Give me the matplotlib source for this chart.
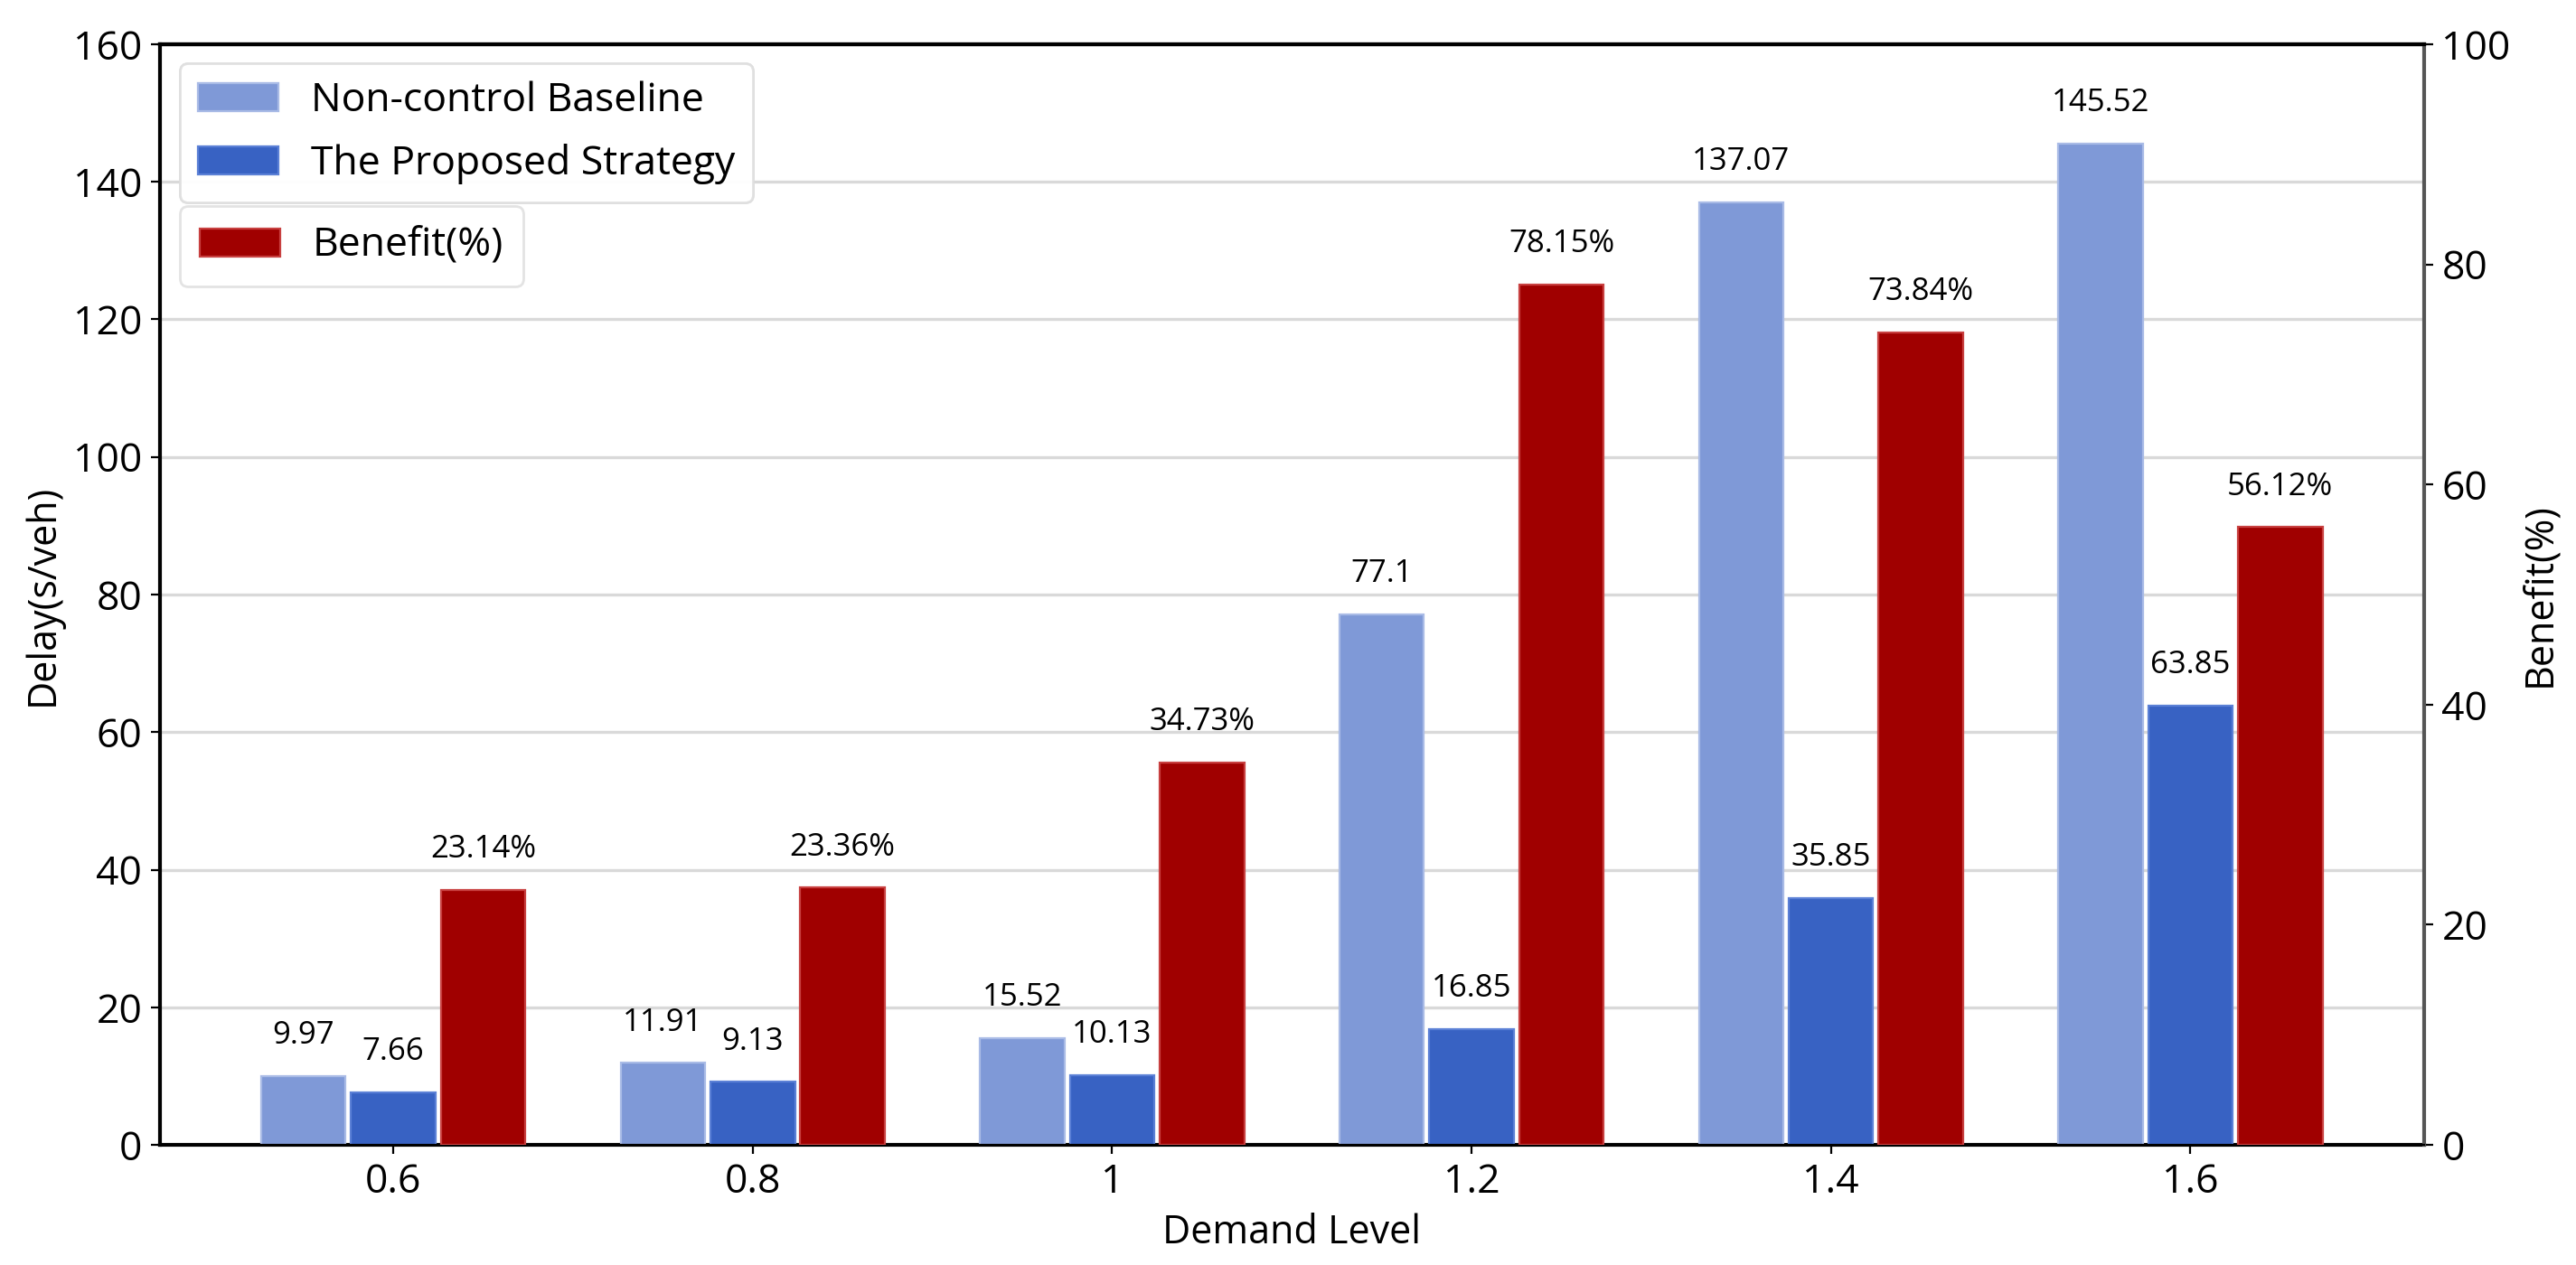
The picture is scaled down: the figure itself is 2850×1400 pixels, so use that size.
import matplotlib
matplotlib.use("Agg")
import matplotlib.pyplot as plt
import numpy as np

plt.rcParams['font.family'] = ['Open Sans', 'DejaVu Sans']

demand_levels = ["0.6", "0.8", "1", "1.2", "1.4", "1.6"]
baseline_delay = [9.97, 11.91, 15.52, 77.1, 137.07, 145.52]
proposed_delay = [7.66, 9.13, 10.13, 16.85, 35.85, 63.85]
benefit_pct = [23.14, 23.36, 34.73, 78.15, 73.84, 56.12]

c_base = "#7f99d7"
c_prop = "#3862c3"
c_ben = "#a00000"

fig = plt.figure(figsize=(14.25, 7), dpi=200)
ax = fig.add_axes([0.062, 0.095, 0.879, 0.87])
ax2 = ax.twinx()

x = np.arange(len(demand_levels))
w = 0.235
off = 0.25

b1 = ax.bar(x - off, baseline_delay, w, color=c_base, edgecolor="#a9bbe6", linewidth=0.8,
            label="Non-control Baseline", zorder=3)
b2 = ax.bar(x, proposed_delay, w, color=c_prop, edgecolor="#5b80d6", linewidth=0.8,
            label="The Proposed Strategy", zorder=3)
b3 = ax2.bar(x + off, benefit_pct, w, color=c_ben, edgecolor="#c84040", linewidth=0.8,
             label="Benefit(%)", zorder=3)

for rect, v in zip(b1, baseline_delay):
    ax.annotate(f"{v:g}", (rect.get_x() + rect.get_width() / 2, rect.get_height()),
                xytext=(0, 10), textcoords="offset points", ha="center", va="bottom", fontsize=12.5)
for rect, v in zip(b2, proposed_delay):
    ax.annotate(f"{v:g}", (rect.get_x() + rect.get_width() / 2, rect.get_height()),
                xytext=(0, 10), textcoords="offset points", ha="center", va="bottom", fontsize=12.5)
for rect, v in zip(b3, benefit_pct):
    ax2.annotate(f"{v:.2f}%", (rect.get_x() + rect.get_width() / 2, rect.get_height()),
                 xytext=(0, 10), textcoords="offset points", ha="center", va="bottom", fontsize=12.5)

ax.set_xlim(-0.65, 5.65)
ax.set_ylim(0, 160)
ax2.set_ylim(0, 100)
ax.set_xticks(x)
ax.set_xticklabels(demand_levels)
ax.set_yticks(np.arange(0, 161, 20))
ax2.set_yticks(np.arange(0, 101, 20))

ax.grid(axis="y", color="#d9d9d9", linewidth=1.2, zorder=0)
ax.set_axisbelow(True)

ax.tick_params(labelsize=16)
ax2.tick_params(labelsize=16)

ax.set_xlabel("Demand Level", fontsize=15.5)
ax.set_ylabel("Delay(s/veh)", fontsize=15.5)
ax2.set_ylabel("Benefit(%)", fontsize=15.5)

for s in ["top", "left", "bottom"]:
    ax.spines[s].set_linewidth(1.5)
    ax.spines[s].set_color("black")
ax2.spines["right"].set_color("#555555")
ax2.spines["right"].set_linewidth(1.5)
ax2.spines["top"].set_linewidth(1.5)

leg1 = ax.legend(handles=[b1, b2], loc="upper left", bbox_to_anchor=(0.009, 0.983),
                 borderaxespad=0, fontsize=16, edgecolor="#dddddd", labelspacing=0.55,
                 borderpad=0.45)
ax.add_artist(leg1)
leg2 = ax2.legend(handles=[b3], loc="upper left", bbox_to_anchor=(0.009, 0.853),
                  borderaxespad=0, fontsize=16, edgecolor="#dddddd", borderpad=0.5)
leg1.set_zorder(10)

fig.savefig("out.png", dpi=200)
